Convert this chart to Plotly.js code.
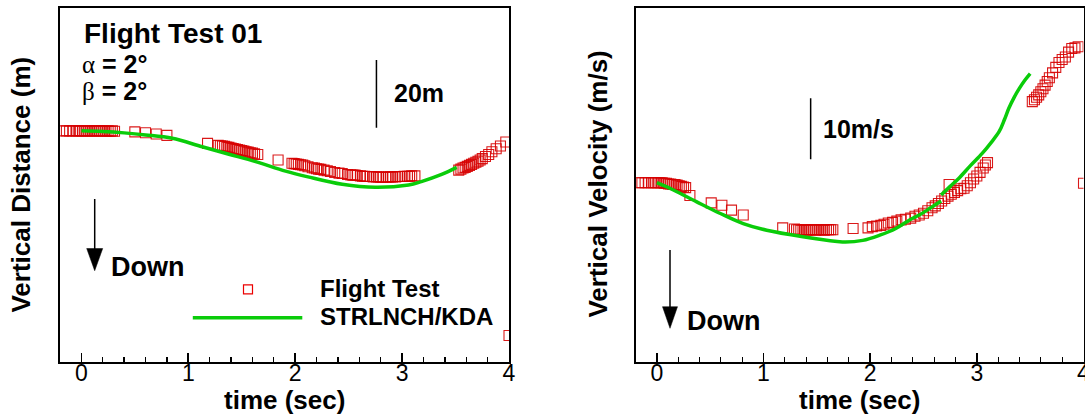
<!DOCTYPE html>
<html><head><meta charset="utf-8">
<script src="https://cdn.plot.ly/plotly-3.0.1.min.js"></script>
<style>html,body{margin:0;padding:0;background:#fff;overflow:hidden}#chart{width:1085px;height:417px}</style>
</head><body><div id="chart"></div>
<script>
// ---------- data ----------
const seriesNames = ['Flight Test', 'STRLNCH/KDA'];
const tickValues = [0, 1, 2, 3, 4];
const tickLabels = ['0', '1', '2', '3', '4'];

// Left panel: vertical distance (m), relative to start
const distFlightTime = [
 -0.17,-0.14,-0.11,-0.08,-0.05,-0.03,-0.01,0.01,0.03,0.05,0.07,0.09,0.11,0.13,0.15,0.17,0.19,0.21,0.23,0.25,0.27,0.29,0.31,
 0.50,0.60,0.70,0.80,
 1.18,1.28,1.30,1.32,1.34,1.36,1.38,1.40,1.42,1.44,1.46,1.48,1.50,1.52,1.54,1.56,1.58,1.60,1.62,1.65,
 1.84,
 1.97,1.99,2.01,2.03,2.05,2.07,2.09,2.12,2.16,2.18,2.20,2.22,2.24,2.27,2.30,2.33,2.37,2.41,2.44,
 2.49,2.52,2.54,2.56,2.58,2.61,2.63,2.65,2.67,2.70,2.73,2.76,2.78,2.80,2.82,2.85,2.87,2.89,2.91,2.94,2.96,2.98,3.00,3.02,3.05,3.07,3.09,3.12,
 3.53,3.55,3.57,3.59,3.61,3.63,3.65,3.67,3.69,3.71,3.73,3.75,3.78,3.81,3.84,3.88,3.92,3.97,
 4.00];
const distFlightValue = [
 0,0,0,0,0,0,0,0,0,0,0,0,0,0,0,0,0,0,-0.1,0,-0.1,0,-0.1,
 -0.3,-0.55,-0.95,-1.35,
 -3.7,-4.3,-4.4,-4.5,-4.6,-4.8,-4.9,-5.1,-5.2,-5.4,-5.5,-5.7,-5.8,-6.0,-6.2,-6.3,-6.5,-6.6,-6.8,-7.0,
 -8.6,
 -9.6,-9.7,-9.8,-9.9,-10.0,-10.1,-10.3,-10.6,-10.9,-11.0,-11.2,-11.3,-11.4,-11.6,-11.8,-12.0,-12.3,-12.5,-12.6,
 -12.9,-13.0,-13.1,-13.1,-13.2,-13.3,-13.4,-13.4,-13.5,-13.5,-13.6,-13.6,-13.6,-13.7,-13.7,-13.7,-13.6,-13.6,-13.6,-13.6,-13.5,-13.5,-13.5,-13.4,-13.4,-13.4,-13.3,-13.3,
 -11.6,-11.3,-11.0,-10.8,-10.5,-10.2,-9.9,-9.6,-9.3,-9.0,-8.6,-8.2,-7.6,-7.0,-6.2,-5.3,-4.5,-3.3,
 -60.5];
const distModelTime  = [0, 0.2, 0.4, 0.6, 0.85, 1.13, 1.38, 1.63, 1.91, 2.12, 2.44, 2.75, 3.06, 3.18, 3.37, 3.51];
const distModelValue = [0, -0.2, -0.6, -1.2, -2.2, -4.7, -6.9, -9.1, -11.9, -13.6, -15.8, -16.7, -16.0, -15.0, -12.9, -10.8];

// Right panel: vertical velocity (m/s), relative to start
const velFlightTime = [
 -0.17,-0.14,-0.11,-0.08,-0.05,-0.03,-0.01,0.01,0.03,0.05,0.07,0.09,0.11,0.13,0.15,0.17,0.19,0.21,0.23,0.25,0.27,0.31,
 0.51,0.61,0.70,0.81,
 1.18,1.29,1.31,1.33,1.35,1.37,1.39,1.41,1.43,1.45,1.47,1.49,1.51,1.53,1.55,1.57,1.59,1.61,1.63,1.65,
 1.84,
 1.98,2.02,2.06,2.10,2.13,2.17,2.21,2.25,2.29,2.33,2.38,2.42,2.46,2.50,2.54,2.58,2.61,2.64,2.67,2.70,
 2.73,2.74,2.76,2.79,2.82,2.85,2.88,2.91,2.94,2.97,3.00,3.03,3.06,3.08,3.10,
 3.52,3.54,3.56,3.58,3.60,3.62,3.64,3.66,3.68,3.71,3.74,3.77,3.80,3.83,3.86,3.89,3.92,3.95,
 4.00];
const velFlightValue = [
 0,0,0,0,0,0,0,0,0,0,-0.1,-0.1,-0.2,-0.2,-0.3,-0.3,-0.4,-0.5,-0.6,-0.7,-0.8,-2.1,
 -3.3,-3.7,-4.5,-5.3,
 -7.4,-7.6,-7.7,-7.7,-7.8,-7.7,-7.7,-7.8,-7.7,-7.7,-7.7,-7.8,-7.7,-7.7,-7.7,-7.8,-7.7,-7.7,-7.7,-7.7,
 -7.5,
 -7.4,-7.2,-7.1,-7.0,-6.8,-6.6,-6.5,-6.3,-6.1,-6.0,-5.8,-5.5,-5.3,-5.0,-4.6,-4.1,-3.8,-3.4,-3.0,-2.6,
 -2.2,-0.3,-1.9,-1.6,-1.3,-1.0,-0.9,-0.5,0.0,0.6,1.1,1.7,2.4,2.9,3.3,
 13.3,13.6,14.0,14.4,14.9,15.4,16.0,16.6,17.2,18.0,18.9,19.7,20.2,20.6,21.4,22.0,22.1,22.3,
 -0.1];
const velModelTime  = [0, 0.155, 0.37, 0.59, 0.81, 1.03, 1.37, 1.74, 1.93, 2.09, 2.24, 2.37, 2.46, 2.56, 2.665,
                       null,
                       2.665, 2.75, 2.83, 2.94, 3.05, 3.13, 3.21, 3.26, 3.30, 3.35, 3.40, 3.45, 3.50];
const velModelValue = [0, -1.2, -3.1, -5.0, -6.7, -7.8, -8.85, -9.7, -9.45, -8.6, -7.5, -6.1, -5.3, -4.2, -3.0,
                       null,
                       -2.0, -0.6, 0.7, 2.8, 4.8, 6.5, 8.4, 10.4, 12.2, 14.0, 15.5, 16.8, 17.9];

// Scale bars (data units)
const distScaleBar = {x: 2.76, from: 0.9, length: 20, label: '20m'};
const velScaleBar  = {x: 1.442, from: 3.84, length: 10, label: '10m/s'};
const distRange = [-68.4, 36.3];
const velRange  = [-29.44, 28.64];

// ---------- layout helpers ----------
const W = 1085, H = 417;
const FONT = 'Liberation Sans, Arial, Helvetica, sans-serif';
const RED = 'rgb(214,0,0)';
const GREEN = 'rgb(10,204,10)';
const px = x => x / W;
const py = y => 1 - y / H;
// centre of a text box whose baseline is at pixel y
const mid = (base, size) => py(base - 0.3465 * size);

function axisX(domain, anchor) {
  return {
    domain: domain, anchor: anchor, range: [-0.2, 4],
    tickmode: 'array', tickvals: tickValues, ticktext: tickLabels,
    ticks: 'inside', ticklen: 9, tickwidth: 1.6, tickcolor: '#000',
    minor: {dtick: 0.2, tick0: 0, ticks: 'inside', ticklen: 5, tickwidth: 1.3, tickcolor: '#000', showgrid: false},
    showline: true, mirror: true, linewidth: 2, linecolor: '#000',
    showgrid: false, zeroline: false,
    ticklabelstandoff: -11, ticklabeloverflow: 'allow',
    tickfont: {family: FONT, size: 23, color: '#000'}
  };
}
function axisY(domain, anchor, range) {
  return {
    domain: domain, anchor: anchor, range: range,
    showticklabels: false, ticks: '',
    showline: true, mirror: true, linewidth: 2, linecolor: '#000',
    showgrid: false, zeroline: false
  };
}
const yDom = [1 - 362.3 / H, 1 - 8 / H];

const markerStyle = {symbol: 'square-open', size: 10, color: RED, line: {width: 1.1, color: RED}, opacity: 0.9};

const traces = [
  {x: distFlightTime, y: distFlightValue, xaxis: 'x', yaxis: 'y', type: 'scatter', mode: 'markers',
   name: seriesNames[0], marker: markerStyle, showlegend: false},
  {x: distModelTime, y: distModelValue, xaxis: 'x', yaxis: 'y', type: 'scatter', mode: 'lines',
   name: seriesNames[1], line: {color: GREEN, width: 3.5, shape: 'spline'}, showlegend: false},
  {x: velFlightTime, y: velFlightValue, xaxis: 'x2', yaxis: 'y2', type: 'scatter', mode: 'markers',
   name: seriesNames[0], marker: markerStyle, showlegend: false},
  {x: velModelTime, y: velModelValue, xaxis: 'x2', yaxis: 'y2', type: 'scatter', mode: 'lines',
   name: seriesNames[1], line: {color: GREEN, width: 3.5, shape: 'spline'}, connectgaps: false, showlegend: false}
];

function txt(text, x, y, size, extra) {
  return Object.assign({text: text, xref: 'paper', yref: 'paper', x: x, y: y,
    xanchor: 'left', yanchor: 'middle', showarrow: false,
    font: {family: FONT, size: size, color: '#000'}}, extra || {});
}
const greek = s => "<span style='font-family:Liberation Serif, DejaVu Serif, serif'>" + s + "</span>";

const annotations = [
  txt('<b>Flight Test 01</b>', px(82), mid(43.3, 28), 28),
  txt(greek('α') + '<b> = 2°</b>', px(80), mid(72.7, 25), 25),
  txt(greek('β') + '<b> = 2°</b>', px(80), mid(99.3, 25), 25),
  txt('<b>' + distScaleBar.label + '</b>', px(392), mid(101.5, 25), 25),
  txt('<b>Down</b>', px(108.5), mid(276, 27), 27),
  txt('<b>' + seriesNames[0] + '</b>', px(318.5), mid(297.3, 24), 24),
  txt('<b>' + seriesNames[1] + '</b>', px(318.5), mid(325, 24), 24),
  txt('<b>Vertical Distance (m)</b>', px(20.6), py(185), 26, {xanchor: 'center', textangle: -90}),
  txt('<b>time (sec)</b>', px(284.5), mid(409.5, 26), 26, {xanchor: 'center'}),
  txt('<b>' + velScaleBar.label + '</b>', px(820.5), mid(137.7, 25), 25),
  txt('<b>Down</b>', px(685), mid(330, 27), 27),
  txt('<b>Vertical Velocity (m/s)</b>', px(597.6), py(184), 26, {xanchor: 'center', textangle: -90}),
  txt('<b>time (sec)</b>', px(859.5), mid(409.5, 26), 26, {xanchor: 'center'})
];

function arrowShapes(x, yTop, yHeadStart, yTip, halfW) {
  return [
    {type: 'line', xref: 'paper', yref: 'paper', x0: px(x), x1: px(x), y0: py(yTop), y1: py(yHeadStart + 2),
     line: {color: '#000', width: 1.5}},
    {type: 'path', xref: 'paper', yref: 'paper',
     path: 'M' + px(x - halfW) + ',' + py(yHeadStart) + ' L' + px(x + halfW) + ',' + py(yHeadStart) +
           ' L' + px(x) + ',' + py(yTip) + ' Z',
     fillcolor: '#000', line: {color: '#000', width: 0.5}}
  ];
}

const shapes = [
  {type: 'line', xref: 'x', yref: 'y', x0: distScaleBar.x, x1: distScaleBar.x,
   y0: distScaleBar.from, y1: distScaleBar.from + distScaleBar.length, line: {color: '#000', width: 1.5}},
  {type: 'line', xref: 'x2', yref: 'y2', x0: velScaleBar.x, x1: velScaleBar.x,
   y0: velScaleBar.from, y1: velScaleBar.from + velScaleBar.length, line: {color: '#000', width: 1.5}},
  ...arrowShapes(94.7, 199, 248.5, 270.7, 8),
  ...arrowShapes(670, 250, 306.7, 328.3, 7.5),
  // legend samples
  {type: 'rect', xref: 'paper', yref: 'paper', x0: px(243.5), x1: px(252.5), y0: py(293.8), y1: py(284.8),
   line: {color: 'rgb(235,0,0)', width: 1.2}, fillcolor: 'rgba(0,0,0,0)'},
  {type: 'line', xref: 'paper', yref: 'paper', x0: px(192.8), x1: px(302.3), y0: py(317.7), y1: py(317.7),
   line: {color: GREEN, width: 3.5}}
];

const layout = {
  width: W, height: H,
  margin: {l: 0, r: 0, t: 0, b: 0, pad: 0},
  paper_bgcolor: '#fff', plot_bgcolor: '#fff',
  showlegend: false,
  font: {family: FONT, color: '#000'},
  xaxis: axisX([60 / W, 509 / W], 'y'),
  yaxis: axisY(yDom, 'x', distRange),
  xaxis2: axisX([635.5 / W, 1083.5 / W], 'y2'),
  yaxis2: axisY(yDom, 'x2', velRange),
  annotations: annotations,
  shapes: shapes
};

Plotly.newPlot('chart', traces, layout, {staticPlot: true, displayModeBar: false});
</script>
</body></html>
